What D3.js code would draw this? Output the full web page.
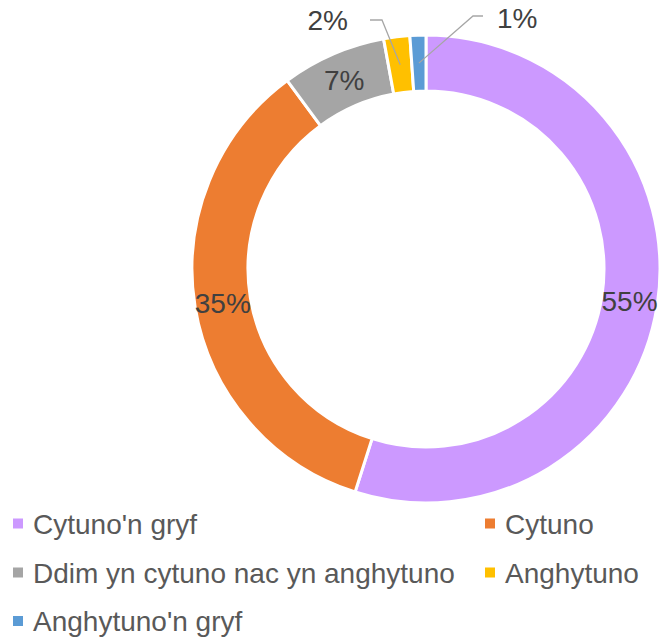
<!DOCTYPE html>
<html lang="cy">
<head>
	<meta charset="UTF-8">
	<title>Donut chart</title>
	<script src="https://d3js.org/d3.v7.min.js"></script>
	<style>
		body { margin: 0; background: #fff; }
		svg { display: block; }
		text {
			font-family: "Liberation Sans", Arial, sans-serif;
		}
	</style>
</head>
<body>
<div id="chart"></div>
<script>
	// Data
	const categories = ["Cytuno'n gryf", "Cytuno", "Ddim yn cytuno nac yn anghytuno", "Anghytuno", "Anghytuno'n gryf"];
	const values = [54.9, 35.0, 7.2, 1.8, 1.1];
	const labels = ["55%", "35%", "7%", "2%", "1%"];
	const colours = ["#cc99ff", "#ed7d31", "#a5a5a5", "#ffc000", "#5b9bd5"];

	const sizeX = 663, sizeY = 639;
	const cx = 426, cy = 269;
	const outerR = 234, innerR = 178;

	const svg = d3.create("svg")
		.attr("width", sizeX)
		.attr("height", sizeY);

	const data = categories.map((c, i) => ({ name: c, value: values[i], label: labels[i], colour: colours[i] }));

	const pie = d3.pie().sort(null).value(d => d.value);
	const arcs = pie(data);
	const arc = d3.arc().innerRadius(innerR).outerRadius(outerR);
	const midArc = d3.arc().innerRadius((innerR + outerR) / 2).outerRadius((innerR + outerR) / 2);

	const g = svg.append("g").attr("transform", `translate(${cx},${cy})`);

	g.selectAll("path")
		.data(arcs)
		.join("path")
		.attr("d", arc)
		.attr("fill", d => d.data.colour)
		.attr("stroke", "#fff")
		.attr("stroke-width", 3);

	// labels inside the ring for the big slices
	g.selectAll("text.inside")
		.data(arcs.slice(0, 3))
		.join("text")
		.attr("class", "inside")
		.attr("x", d => midArc.centroid(d)[0])
		.attr("y", d => midArc.centroid(d)[1])
		.attr("text-anchor", "middle")
		.attr("dy", "0.36em")
		.style("font-size", "28px")
		.style("fill", "#404040")
		.text(d => d.data.label);

	// small slices: labels outside with leader lines
	const outside = [
		{ a: arcs[3], knee: [-44, -249], tip: [-56, -249], anchor: "end", tx: -78, ty: -249 },
		{ a: arcs[4], knee: [47, -253], tip: [57, -253], anchor: "start", tx: 71, ty: -251 }
	];
	outside.forEach(o => {
		const c = midArc.centroid(o.a);
		g.append("polyline")
			.attr("points", [c, o.knee, o.tip].map(p => p.join(",")).join(" "))
			.attr("fill", "none")
			.attr("stroke", "#a6a6a6")
			.attr("stroke-width", 1.3);
		g.append("text")
			.attr("x", o.tx)
			.attr("y", o.ty)
			.attr("dy", "0.36em")
			.attr("text-anchor", o.anchor)
			.style("font-size", "28px")
			.style("fill", "#404040")
			.text(o.a.data.label);
	});

	// legend
	const legendPos = [[13, 523.5], [485, 523.5], [13, 572.5], [485, 572.5], [13, 621]];
	const legend = svg.append("g")
		.selectAll("g")
		.data(data)
		.join("g")
		.attr("transform", (d, i) => `translate(${legendPos[i][0]},${legendPos[i][1]})`);

	legend.append("rect")
		.attr("x", 0)
		.attr("y", -5)
		.attr("width", 10)
		.attr("height", 10)
		.attr("fill", d => d.colour);

	legend.append("text")
		.attr("x", 20)
		.attr("y", 0)
		.attr("dy", "0.36em")
		.style("font-size", "28px")
		.style("fill", "#595959")
		.text(d => d.name);

	document.getElementById("chart").append(svg.node());
</script>
</body>
</html>
